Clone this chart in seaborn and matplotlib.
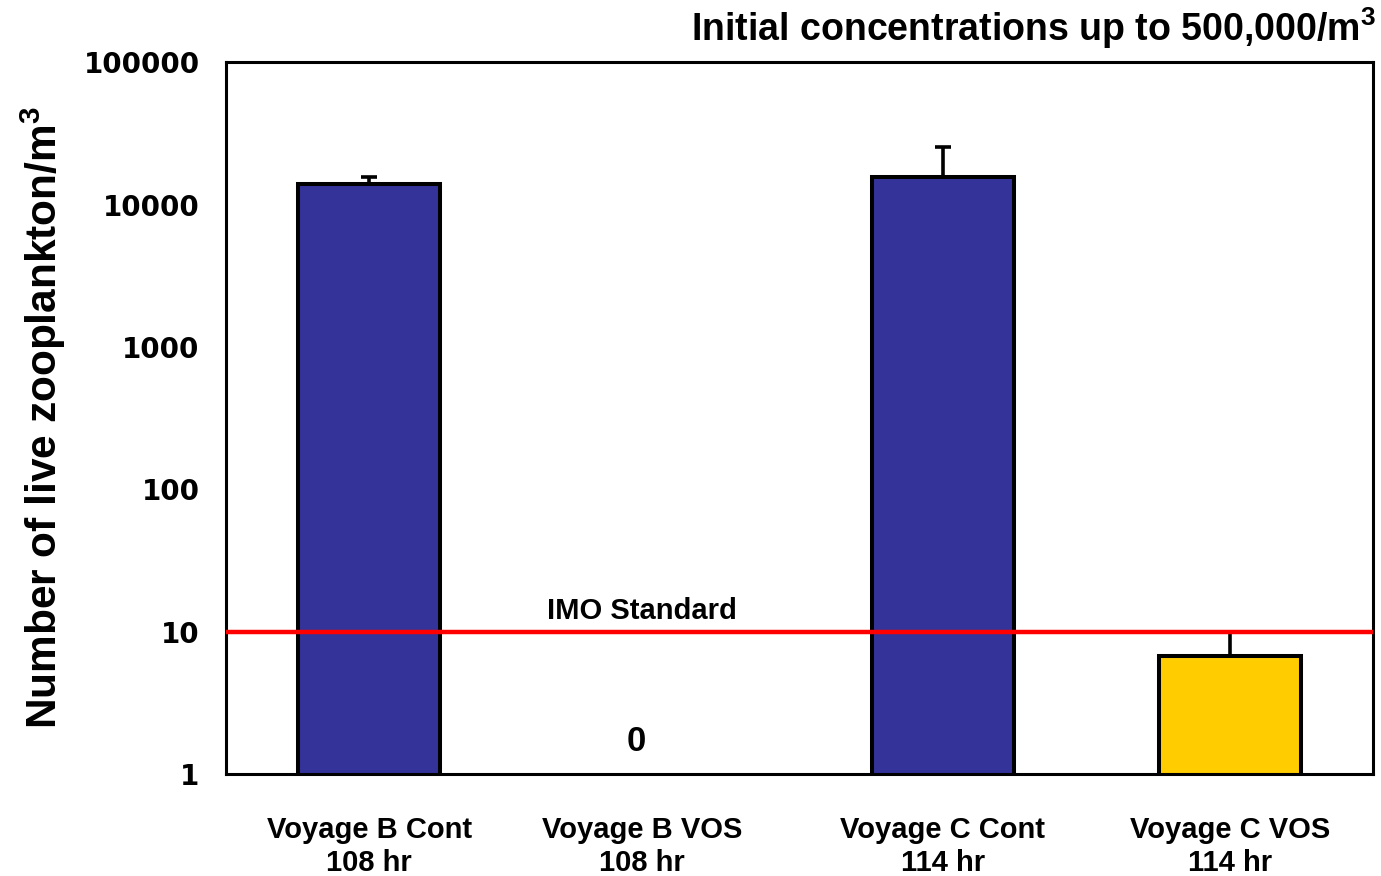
import numpy as np
import matplotlib
matplotlib.use("Agg")
import matplotlib.pyplot as plt
import matplotlib.transforms as mtransforms
from matplotlib.ticker import FixedLocator, NullLocator
import seaborn as sns

# Data
categories = ["Voyage B Cont\n108 hr", "Voyage B VOS\n108 hr",
              "Voyage C Cont\n114 hr", "Voyage C VOS\n114 hr"]
live_counts = [14000, 0, 15700, 6.7]
upper_error = [1700, 0, 9700, 3.3]
bar_colors = ["#333399", "#333399", "#333399", "#FFCC00"]
imo_standard = 10
y_ticks = [1, 10, 100, 1000, 10000, 100000]
y_tick_labels = ["1", "10", "100", "1000", "10000", "100000"]

sns.set_theme(style="white")
plt.rcParams.update({
    "text.color": "black",
    "xtick.color": "black",
    "ytick.color": "black",
    "axes.labelcolor": "black",
    "mathtext.fontset": "custom",
    "mathtext.bf": "Liberation Sans:bold",
    "mathtext.rm": "Liberation Sans",
})

W, H = 1381, 876
fig = plt.figure(figsize=(W / 100, H / 100), dpi=100)
ax = fig.add_axes([226 / W, 1 - 774 / H, (1373 - 226) / W, (774 - 62.3) / H])

# zero counts cannot sit on a log axis; those bars are left empty
plot_vals = [v if v > 0 else np.nan for v in live_counts]

sns.barplot(x=categories, y=plot_vals, hue=categories, palette=bar_colors,
            legend=False, width=0.495, saturation=1, edgecolor="black",
            linewidth=2.9, ax=ax, zorder=2)

pos = np.arange(len(categories))
err_vals = np.array(plot_vals, dtype=float)
err_up = np.array([e if v > 0 else np.nan for v, e in zip(live_counts, upper_error)])
ax.errorbar(pos, err_vals, yerr=[np.zeros(len(pos)), err_up], fmt="none",
            ecolor="black", elinewidth=2.6, capsize=5.8, capthick=2.6, zorder=3)

ax.axhline(imo_standard, color="#FF0000", lw=3.2, zorder=4)
ax.text(0.95, imo_standard * 1.12, "IMO Standard", ha="center", va="bottom",
        fontsize=21, fontweight="bold", family="Liberation Sans", zorder=5)

# value labels for counts that have no visible bar
for i, v in enumerate(live_counts):
    if v <= 0:
        ax.text(i - 0.07, 1.68, f"{v:g}", ha="center", va="center",
                fontsize=25, fontweight="bold", family="Liberation Sans")

ax.set_yscale("log")
ax.set_ylim(1, 100000)
ax.set_xlim(-0.5, 3.5)
ax.yaxis.set_major_locator(FixedLocator(y_ticks))
ax.yaxis.set_minor_locator(NullLocator())
ax.set_yticklabels(y_tick_labels)
ax.tick_params(axis="both", length=0)
ax.tick_params(axis="y", pad=19)
ax.tick_params(axis="x", pad=30)
for lab in ax.get_yticklabels():
    lab.set_fontsize(20)
    lab.set_fontweight("bold")
    lab.set_family("DejaVu Sans")
for i, lab in enumerate(ax.get_xticklabels()):
    lab.set_fontsize(21)
    lab.set_fontweight("bold")
    lab.set_family("Liberation Sans")
    lab.set_linespacing(1.25)
    if i == 1:
        lab.set_transform(lab.get_transform() +
                          mtransforms.ScaledTranslation(-14 / 100, 0, fig.dpi_scale_trans))

ax.set_xlabel("")
ax.set_ylabel("")
ax.grid(False)
for s in ax.spines.values():
    s.set_visible(True)
    s.set_color("black")
    s.set_linewidth(2.2)

fig.text(57 / W, 1 - 418 / H, r"Number of live zooplankton/m$^{\mathbf{3}}$",
         rotation=90, rotation_mode="anchor", ha="center", va="baseline",
         fontsize=30.5, fontweight="bold", family="Liberation Sans")

fig.text(1376 / W, 1 - 41 / H, r"Initial concentrations up to 500,000/m$^{\mathbf{3}}$",
         ha="right", va="baseline", fontsize=27, fontweight="bold",
         family="Liberation Sans")

fig.savefig("out.png", dpi=100)
